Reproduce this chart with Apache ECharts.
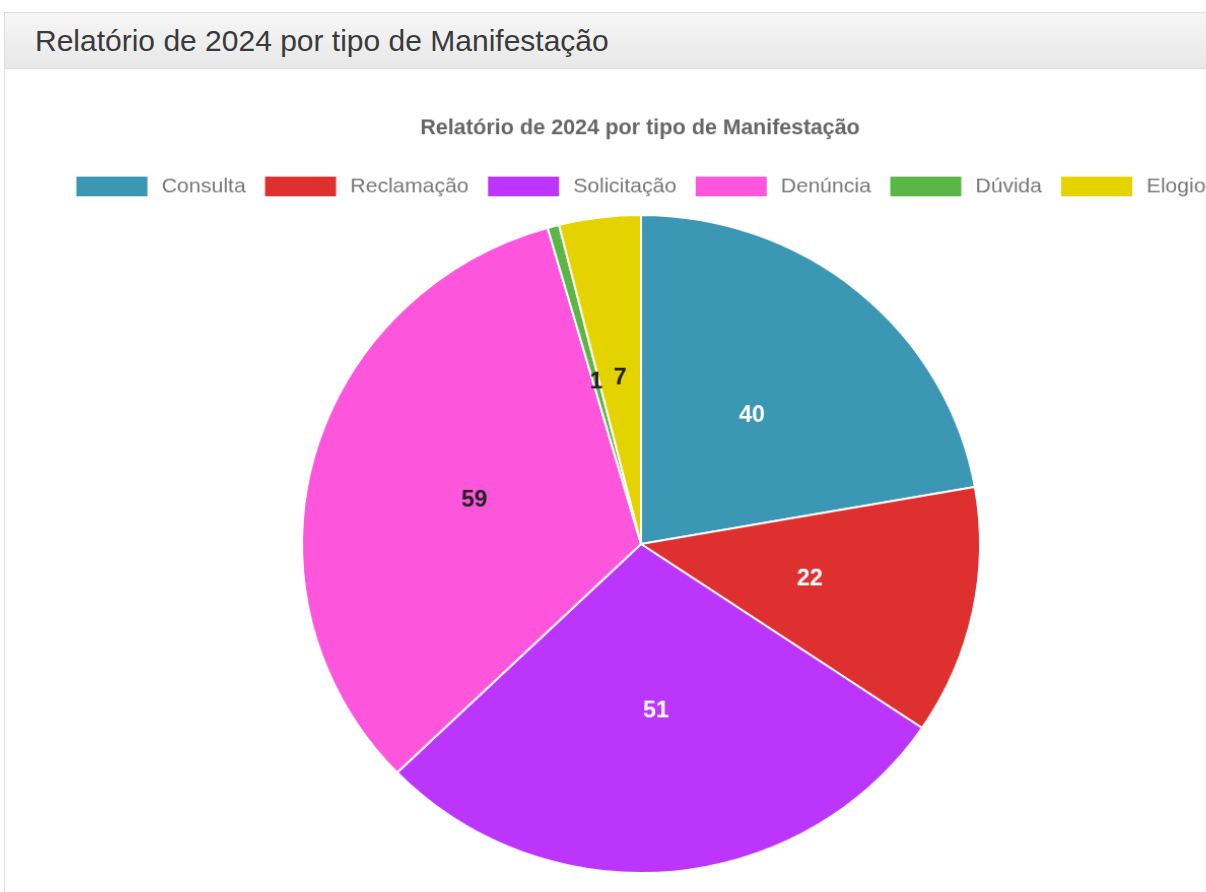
<!DOCTYPE html>
<html>
<head>
<meta charset="utf-8">
<script src="https://cdn.jsdelivr.net/npm/echarts@6/dist/echarts.min.js"></script>
<style>
  html, body { margin:0; padding:0; width:1206px; height:892px; overflow:hidden; background:#fff; font-family:"Liberation Sans", Arial, sans-serif; }
  #panel { position:absolute; left:4px; top:12px; width:1260px; height:900px; border-left:1px solid #ddd; border-top:1px solid #ddd; }
  #heading { position:absolute; left:0; top:0; width:100%; height:56px; box-sizing:border-box; border-bottom:1px solid #ddd;
    background:linear-gradient(#f6f6f6, #e8e8e8); color:#3a3a3a; font-size:30px; line-height:56px; padding-left:30px; white-space:nowrap; }
  #chart { position:absolute; left:0; top:0; width:1280px; height:892px; transform-origin:641px 544px; transform:scale(1.015, 0.985); }
</style>
</head>
<body>
<div id="panel"><div id="heading">Relatório de 2024 por tipo de Manifestação</div></div>
<div id="chart"></div>
<script>
const chartTitle = "Relatório de 2024 por tipo de Manifestação";
const categories = ["Consulta", "Reclamação", "Solicitação", "Denúncia", "Dúvida", "Elogio"];
const values = [40, 22, 51, 59, 1, 7];
const colors = ["#3b97b4", "#de302e", "#bc35fc", "#fd55dc", "#5bb745", "#e5d300"];
const labelColors = ["#ffffff", "#ffffff", "#ffffff", "#222222", "#222222", "#222222"];

const chart = echarts.init(document.getElementById('chart'), null, { renderer: 'canvas' });
chart.setOption({
  animation: false,
  title: {
    text: chartTitle,
    left: 'center',
    top: 107,
    textStyle: { fontFamily: 'Liberation Sans, Arial', fontSize: 21.3, fontWeight: 'bold', color: '#666' }
  },
  legend: {
    data: categories,
    left: 'center',
    top: 164,
    icon: 'rect',
    itemWidth: 72,
    itemHeight: 22,
    itemGap: 17,
    textStyle: { fontFamily: 'Liberation Sans, Arial', fontSize: 21, color: '#777', padding: [0, 0, 0, 8] }
  },
  series: [{
    type: 'pie',
    center: [641, 544],
    radius: 334,
    startAngle: 90,
    clockwise: true,
    avoidLabelOverlap: false,
    itemStyle: { borderColor: '#fff', borderWidth: 2 },
    label: { show: true, position: 'inside', formatter: '{c}', fontFamily: 'Liberation Sans, Arial', fontSize: 23, fontWeight: 'bold' },
    labelLine: { show: false },
    emphasis: { disabled: true },
    data: categories.map((c, i) => ({
      name: c, value: values[i],
      itemStyle: { color: colors[i] },
      label: { color: labelColors[i] }
    }))
  }]
});
</script>
</body>
</html>
